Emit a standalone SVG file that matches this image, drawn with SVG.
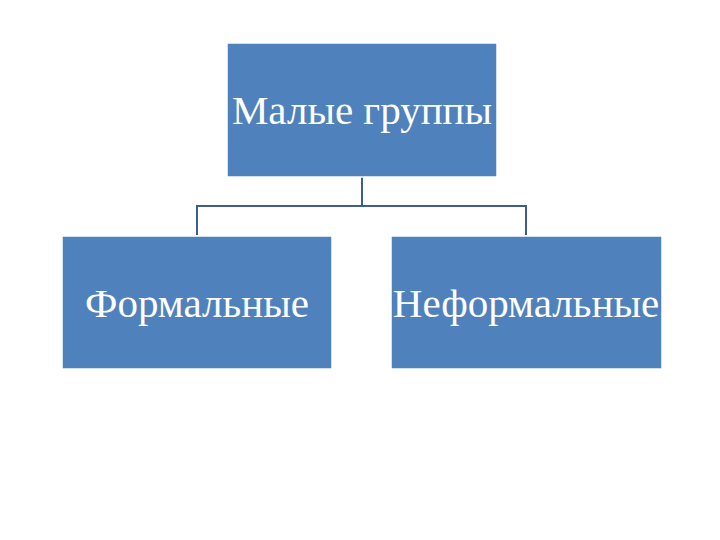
<svg xmlns="http://www.w3.org/2000/svg" width="720" height="540" viewBox="0 0 720 540">
<style>
.box{fill:#4F81BD;stroke:#FFFFFF;stroke-width:1.5}
.lbl{font-family:"Liberation Serif","Times New Roman",serif;font-size:41px;fill:#FFFFFF;text-anchor:middle}
.conn{fill:none;stroke:#3B5E8C;stroke-width:2}
</style>
<rect width="720" height="540" fill="#FFFFFF"/>
<g id="connectors">
<path class="conn" d="M362,177 V206 M197,206 H526 M197,205 V235 M526,205 V235"/>
</g>
<g id="node-top">
<rect class="box" x="227" y="43" width="270" height="134"/>
<text class="lbl" x="362" y="124">Малые группы</text>
</g>
<g id="node-left">
<rect class="box" x="62" y="236" width="270" height="133"/>
<text class="lbl" x="197" y="317">Формальные</text>
</g>
<g id="node-right">
<rect class="box" x="391" y="236" width="271" height="133"/>
<text class="lbl" x="526" y="317">Неформальные</text>
</g>
</svg>
